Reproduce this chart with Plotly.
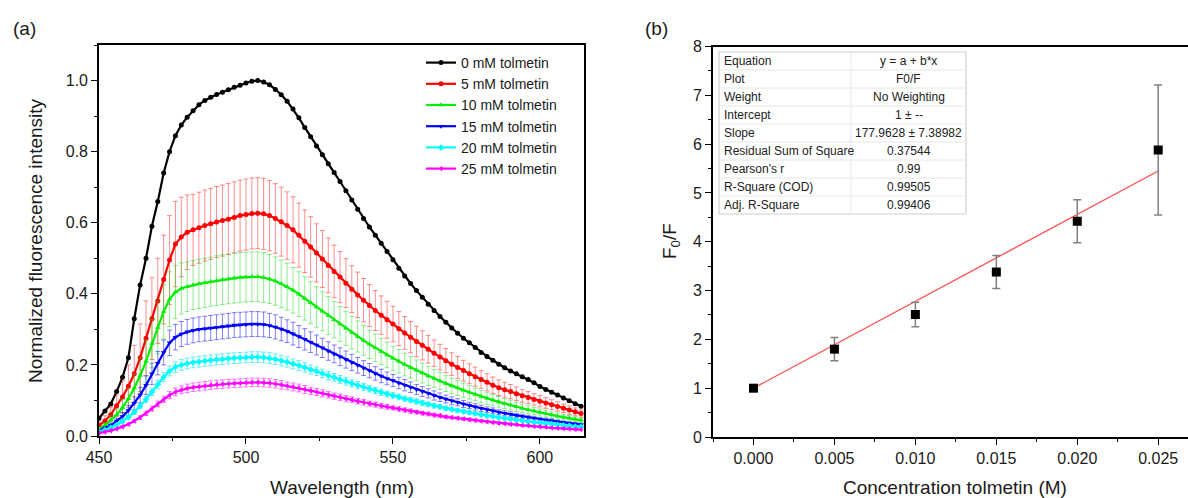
import plotly.graph_objects as go

# ---------------- data: panel (a) ----------------
wavelength = list(range(450, 615, 2))  # 450 ... 614 nm

series_names = ["0 mM tolmetin", "5 mM tolmetin", "10 mM tolmetin",
                "15 mM tolmetin", "20 mM tolmetin", "25 mM tolmetin"]

int_0mM = [0.05, 0.07, 0.09, 0.125, 0.165, 0.22, 0.33, 0.425, 0.50, 0.59,
           0.66, 0.74, 0.80, 0.845, 0.875, 0.897, 0.915, 0.932, 0.944, 0.953,
           0.961, 0.967, 0.974, 0.981, 0.987, 0.993, 0.998, 1.0, 0.996, 0.988,
           0.975, 0.96, 0.942, 0.92, 0.895, 0.868, 0.842, 0.816, 0.791, 0.766,
           0.741, 0.716, 0.69, 0.664, 0.638, 0.612, 0.588, 0.565, 0.542, 0.519,
           0.496, 0.472, 0.45, 0.429, 0.409, 0.39, 0.371, 0.353, 0.336, 0.32,
           0.304, 0.289, 0.275, 0.262, 0.249, 0.235, 0.224, 0.213, 0.202, 0.192,
           0.183, 0.175, 0.167, 0.159, 0.15, 0.139, 0.131, 0.123, 0.115, 0.107,
           0.099, 0.091, 0.084]

int_5mM = [0.03, 0.042, 0.06, 0.085, 0.11, 0.14, 0.175, 0.22, 0.275, 0.33,
           0.38, 0.44, 0.495, 0.54, 0.56, 0.573, 0.58, 0.586, 0.592, 0.597,
           0.602, 0.606, 0.61, 0.615, 0.62, 0.623, 0.626, 0.627, 0.625, 0.62,
           0.612, 0.603, 0.592, 0.58, 0.565, 0.548, 0.532, 0.515, 0.498, 0.48,
           0.463, 0.447, 0.43, 0.413, 0.397, 0.382, 0.367, 0.353, 0.34, 0.327,
           0.315, 0.302, 0.29, 0.278, 0.266, 0.255, 0.244, 0.233, 0.222, 0.212,
           0.202, 0.193, 0.184, 0.175, 0.167, 0.159, 0.151, 0.143, 0.136, 0.13,
           0.125, 0.119, 0.113, 0.108, 0.103, 0.098, 0.093, 0.088, 0.083, 0.078,
           0.073, 0.068, 0.063]
err_5mM = [0.01, 0.015, 0.02, 0.03, 0.045, 0.06, 0.08, 0.095, 0.105, 0.115,
           0.12, 0.125, 0.125, 0.12, 0.112, 0.105, 0.1, 0.1, 0.1, 0.1,
           0.1, 0.1, 0.1, 0.1, 0.1, 0.1, 0.1, 0.1, 0.1, 0.099,
           0.098, 0.097, 0.095, 0.093, 0.09, 0.088, 0.085, 0.082, 0.08, 0.077,
           0.074, 0.072, 0.069, 0.066, 0.064, 0.061, 0.059, 0.056, 0.054, 0.052,
           0.05, 0.048, 0.046, 0.044, 0.043, 0.041, 0.039, 0.037, 0.036, 0.034,
           0.032, 0.031, 0.029, 0.028, 0.027, 0.025, 0.024, 0.023, 0.022, 0.021,
           0.02, 0.019, 0.018, 0.017, 0.016, 0.016, 0.015, 0.014, 0.013, 0.012,
           0.012, 0.011, 0.01]

int_10mM = [0.02, 0.03, 0.045, 0.06, 0.08, 0.105, 0.135, 0.17, 0.21, 0.26,
            0.305, 0.35, 0.385, 0.405, 0.415, 0.42, 0.425, 0.428, 0.431, 0.434,
            0.437, 0.44, 0.442, 0.444, 0.446, 0.447, 0.448, 0.448, 0.446, 0.442,
            0.436, 0.428, 0.42, 0.41, 0.399, 0.387, 0.375, 0.363, 0.351, 0.339,
            0.327, 0.315, 0.303, 0.291, 0.28, 0.269, 0.258, 0.248, 0.238, 0.228,
            0.219, 0.21, 0.201, 0.193, 0.185, 0.177, 0.169, 0.162, 0.155, 0.148,
            0.141, 0.135, 0.129, 0.123, 0.117, 0.111, 0.106, 0.101, 0.096, 0.091,
            0.087, 0.082, 0.078, 0.074, 0.07, 0.066, 0.063, 0.059, 0.056, 0.053,
            0.05, 0.047, 0.044]
err_10mM = [0.005, 0.008, 0.012, 0.017, 0.023, 0.03, 0.04, 0.05, 0.06, 0.068,
            0.074, 0.077, 0.077, 0.075, 0.072, 0.07, 0.069, 0.069, 0.069, 0.069,
            0.07, 0.07, 0.07, 0.07, 0.07, 0.07, 0.07, 0.07, 0.07, 0.069,
            0.068, 0.067, 0.066, 0.064, 0.063, 0.061, 0.059, 0.057, 0.055, 0.053,
            0.051, 0.049, 0.048, 0.046, 0.044, 0.042, 0.04, 0.039, 0.037, 0.036,
            0.034, 0.033, 0.032, 0.03, 0.029, 0.028, 0.027, 0.025, 0.024, 0.023,
            0.022, 0.021, 0.02, 0.019, 0.018, 0.017, 0.017, 0.016, 0.015, 0.014,
            0.014, 0.013, 0.012, 0.012, 0.011, 0.01, 0.01, 0.009, 0.009, 0.008,
            0.008, 0.007, 0.007]

int_15mM = [0.015, 0.022, 0.03, 0.042, 0.055, 0.072, 0.092, 0.115, 0.143, 0.175,
            0.205, 0.235, 0.262, 0.278, 0.287, 0.293, 0.297, 0.3, 0.302, 0.304,
            0.306, 0.308, 0.31, 0.312, 0.313, 0.314, 0.315, 0.315, 0.314, 0.311,
            0.307, 0.301, 0.295, 0.288, 0.28, 0.272, 0.264, 0.256, 0.248, 0.239,
            0.231, 0.223, 0.215, 0.207, 0.199, 0.191, 0.184, 0.176, 0.169, 0.162,
            0.156, 0.149, 0.143, 0.137, 0.131, 0.125, 0.12, 0.114, 0.109, 0.104,
            0.099, 0.095, 0.09, 0.086, 0.082, 0.078, 0.074, 0.071, 0.067, 0.064,
            0.061, 0.058, 0.055, 0.052, 0.05, 0.047, 0.045, 0.043, 0.04, 0.038,
            0.036, 0.034, 0.032]
err_15mM = [0.003, 0.004, 0.006, 0.008, 0.011, 0.014, 0.018, 0.022, 0.026, 0.03,
            0.033, 0.035, 0.036, 0.036, 0.035, 0.035, 0.035, 0.035, 0.035, 0.035,
            0.035, 0.035, 0.035, 0.035, 0.035, 0.035, 0.035, 0.035, 0.035, 0.034,
            0.034, 0.033, 0.032, 0.032, 0.031, 0.03, 0.029, 0.028, 0.027, 0.026,
            0.025, 0.025, 0.024, 0.023, 0.022, 0.021, 0.02, 0.019, 0.019, 0.018,
            0.017, 0.016, 0.016, 0.015, 0.014, 0.014, 0.013, 0.013, 0.012, 0.011,
            0.011, 0.01, 0.01, 0.009, 0.009, 0.009, 0.008, 0.008, 0.007, 0.007,
            0.007, 0.006, 0.006, 0.006, 0.005, 0.005, 0.005, 0.005, 0.004, 0.004,
            0.004, 0.004, 0.004]

int_20mM = [0.012, 0.017, 0.023, 0.031, 0.041, 0.053, 0.067, 0.084, 0.103, 0.124,
            0.145, 0.166, 0.183, 0.194, 0.2, 0.204, 0.207, 0.209, 0.211, 0.213,
            0.215, 0.216, 0.218, 0.219, 0.22, 0.221, 0.222, 0.222, 0.221, 0.219,
            0.216, 0.212, 0.208, 0.203, 0.198, 0.193, 0.187, 0.182, 0.176, 0.17,
            0.165, 0.159, 0.154, 0.148, 0.143, 0.138, 0.133, 0.128, 0.123, 0.118,
            0.114, 0.11, 0.105, 0.101, 0.097, 0.093, 0.089, 0.085, 0.082, 0.078,
            0.075, 0.072, 0.069, 0.066, 0.063, 0.06, 0.057, 0.055, 0.052, 0.05,
            0.048, 0.045, 0.043, 0.041, 0.039, 0.037, 0.035, 0.034, 0.032, 0.03,
            0.029, 0.027, 0.026]
err_20mM = [0.001, 0.002, 0.002, 0.003, 0.004, 0.005, 0.006, 0.007, 0.009, 0.01,
            0.012, 0.013, 0.014, 0.015, 0.015, 0.015, 0.015, 0.015, 0.015, 0.015,
            0.015, 0.015, 0.015, 0.015, 0.015, 0.015, 0.015, 0.015, 0.015, 0.015,
            0.015, 0.015, 0.014, 0.014, 0.014, 0.013, 0.013, 0.012, 0.012, 0.012,
            0.011, 0.011, 0.011, 0.01, 0.01, 0.01, 0.009, 0.009, 0.009, 0.008,
            0.008, 0.008, 0.007, 0.007, 0.007, 0.007, 0.006, 0.006, 0.006, 0.006,
            0.005, 0.005, 0.005, 0.005, 0.004, 0.004, 0.004, 0.004, 0.004, 0.004,
            0.003, 0.003, 0.003, 0.003, 0.003, 0.003, 0.003, 0.003, 0.003, 0.003,
            0.002, 0.002, 0.002]

int_25mM = [0.008, 0.011, 0.015, 0.02, 0.026, 0.033, 0.042, 0.052, 0.064, 0.077,
            0.09, 0.103, 0.115, 0.124, 0.13, 0.134, 0.137, 0.139, 0.141, 0.143,
            0.145, 0.146, 0.147, 0.148, 0.149, 0.15, 0.151, 0.151, 0.15, 0.149,
            0.147, 0.144, 0.141, 0.138, 0.135, 0.131, 0.127, 0.124, 0.12, 0.116,
            0.112, 0.109, 0.105, 0.102, 0.098, 0.095, 0.091, 0.088, 0.085, 0.082,
            0.079, 0.076, 0.073, 0.07, 0.067, 0.064, 0.062, 0.059, 0.057, 0.054,
            0.052, 0.05, 0.048, 0.046, 0.044, 0.042, 0.04, 0.038, 0.036, 0.035,
            0.033, 0.032, 0.03, 0.029, 0.027, 0.026, 0.025, 0.023, 0.022, 0.021,
            0.02, 0.019, 0.018]
err_25mM = [0.001, 0.001, 0.002, 0.002, 0.003, 0.003, 0.004, 0.005, 0.006, 0.007,
            0.008, 0.009, 0.01, 0.011, 0.011, 0.012, 0.012, 0.012, 0.012, 0.012,
            0.012, 0.012, 0.012, 0.012, 0.012, 0.012, 0.012, 0.012, 0.012, 0.012,
            0.012, 0.012, 0.011, 0.011, 0.011, 0.011, 0.01, 0.01, 0.01, 0.009,
            0.009, 0.009, 0.009, 0.008, 0.008, 0.008, 0.007, 0.007, 0.007, 0.007,
            0.006, 0.006, 0.006, 0.006, 0.005, 0.005, 0.005, 0.005, 0.005, 0.004,
            0.004, 0.004, 0.004, 0.004, 0.004, 0.003, 0.003, 0.003, 0.003, 0.003,
            0.003, 0.003, 0.002, 0.002, 0.002, 0.002, 0.002, 0.002, 0.002, 0.002,
            0.002, 0.002, 0.001]

# ---------------- data: panel (b) ----------------
conc_M = [0.0, 0.005, 0.010, 0.015, 0.020, 0.025]
f0_over_f = [1.0, 1.80, 2.51, 3.38, 4.42, 5.88]
f0_over_f_err = [0.0, 0.24, 0.25, 0.34, 0.44, 1.33]
fit_intercept = 1.0
fit_slope = 177.9628

table_labels = ["Equation", "Plot", "Weight", "Intercept", "Slope",
                "Residual Sum of Square", "Pearson's r", "R-Square (COD)",
                "Adj. R-Square"]
table_values = ["y = a + b*x", "F0/F", "No Weighting", "1 ± --",
                "177.9628 ± 7.38982", "0.37544", "0.99", "0.99505", "0.99406"]

# ---------------- figure ----------------
W, H = 1188, 498
FONT = "Arial, Liberation Sans, sans-serif"


def px(x):
    return x / W


def py(y):
    return 1 - y / H


fig = go.Figure()

styles = [
    ("#000000", "circle", None, None),
    ("#ff0000", "circle", err_5mM, "rgba(255,0,0,0.5)"),
    ("#00ee00", "triangle-up", err_10mM, "rgba(0,220,0,0.5)"),
    ("#0000ff", "triangle-down", err_15mM, "rgba(0,0,255,0.55)"),
    ("#00ffff", "diamond", err_20mM, "rgba(0,230,230,0.65)"),
    ("#ff00ff", "triangle-left", err_25mM, "rgba(255,0,255,0.6)"),
]
series_vals = [int_0mM, int_5mM, int_10mM, int_15mM, int_20mM, int_25mM]

for name, vals, (col, sym, err, ecol) in zip(series_names, series_vals, styles):
    tr = dict(x=wavelength, y=vals, name=name, mode="lines+markers",
              line=dict(color=col, width=2.2),
              marker=dict(color=col, symbol=sym, size=5),
              xaxis="x", yaxis="y")
    if err is not None:
        tr["error_y"] = dict(type="data", array=err, visible=True,
                             color=ecol, thickness=0.9, width=2.5)
    fig.add_trace(go.Scatter(**tr))

# panel (b): fit line and data
fit_x = [conc_M[0], conc_M[-1]]
fit_y = [fit_intercept + fit_slope * v for v in fit_x]
fig.add_trace(go.Scatter(x=fit_x, y=fit_y, mode="lines",
                         line=dict(color="#ff4d4d", width=1.3),
                         showlegend=False, xaxis="x2", yaxis="y2"))
fig.add_trace(go.Scatter(x=conc_M, y=f0_over_f, mode="markers",
                         marker=dict(symbol="square", size=9, color="black"),
                         error_y=dict(type="data", array=f0_over_f_err,
                                      color="#808080", thickness=1.5, width=4),
                         showlegend=False, xaxis="x2", yaxis="y2"))

axis_common = dict(showline=True, linecolor="black", linewidth=1.6,
                   ticks="outside", ticklen=6, tickwidth=1.4, tickcolor="black",
                   showgrid=False, zeroline=False, automargin=False,
                   tickfont=dict(family=FONT, size=16, color="#1a1a1a"))

fig.update_layout(
    width=W, height=H,
    margin=dict(l=0, r=0, t=0, b=0, autoexpand=False),
    paper_bgcolor="white", plot_bgcolor="white",
    font=dict(family=FONT, color="#1a1a1a"),
    xaxis=dict(domain=[px(99), px(584)], range=[450, 615],
               tickvals=[450, 500, 550, 600], mirror=True,
               minor=dict(ticks="outside", ticklen=3, tickwidth=1.2,
                          tickcolor="black", tick0=450, dtick=25),
               **axis_common),
    yaxis=dict(domain=[py(436), py(45)], range=[0, 1.1],
               tickvals=[0, 0.2, 0.4, 0.6, 0.8, 1.0], tickformat=".1f",
               mirror=True,
               minor=dict(ticks="outside", ticklen=3, tickwidth=1.2,
                          tickcolor="black", tick0=0, dtick=0.1),
               **axis_common),
    xaxis2=dict(domain=[px(713), 1.0], range=[-0.0025, 0.02684],
                tickvals=[0, 0.005, 0.01, 0.015, 0.02, 0.025],
                tickformat=".3f", mirror=True, anchor="y2",
                minor=dict(ticks="outside", ticklen=3, tickwidth=1.2,
                           tickcolor="black", tick0=0, dtick=0.0025),
                **axis_common),
    yaxis2=dict(domain=[py(437), py(46.5)], range=[0, 8], dtick=1,
                anchor="x2", mirror=False,
                minor=dict(ticks="outside", ticklen=3, tickwidth=1.2,
                           tickcolor="black", tick0=0, dtick=0.5),
                **axis_common),
    legend=dict(x=px(421), y=py(47), xanchor="left", yanchor="top",
                bgcolor="rgba(0,0,0,0)", borderwidth=0,
                font=dict(family=FONT, size=14, color="#1a1a1a"),
                itemwidth=30, tracegroupgap=0),
)

annotations = [
    dict(text="(a)", x=px(24), y=py(28), font=dict(size=19)),
    dict(text="(b)", x=px(656), y=py(28), font=dict(size=19)),
    dict(text="Wavelength (nm)", x=px(341.5), y=py(487), font=dict(size=19)),
    dict(text="Normalized fluorescence intensity", x=px(35), y=py(241),
         textangle=-90, font=dict(size=19)),
    dict(text="Concentration tolmetin (M)", x=px(955), y=py(487),
         font=dict(size=19)),
    dict(text="F<sub>0</sub>/F", x=px(671), y=py(241), textangle=-90,
         font=dict(size=19)),
]
for a in annotations:
    a.update(xref="paper", yref="paper", showarrow=False,
             xanchor="center", yanchor="middle")
    a["font"].update(family=FONT, color="#1a1a1a")

# table inset in panel (b)
tx0, tx1, tdiv = 719, 966, 851
ty0, row_h = 52, 18
n_rows = len(table_labels)
shapes = [dict(type="rect", xref="paper", yref="paper",
               x0=px(tx0), x1=px(tx1), y0=py(ty0), y1=py(ty0 + row_h * n_rows),
               line=dict(color="#d0d0d0", width=1.2), fillcolor="white",
               layer="above")]
for i in range(1, n_rows):
    yy = py(ty0 + row_h * i)
    shapes.append(dict(type="line", xref="paper", yref="paper",
                       x0=px(tx0), x1=px(tx1), y0=yy, y1=yy,
                       line=dict(color="#e6e6e6", width=1), layer="above"))
shapes.append(dict(type="line", xref="paper", yref="paper",
                   x0=px(tdiv), x1=px(tdiv), y0=py(ty0),
                   y1=py(ty0 + row_h * n_rows),
                   line=dict(color="#e6e6e6", width=1), layer="above"))
for i, (lab, val) in enumerate(zip(table_labels, table_values)):
    yc = py(ty0 + row_h * i + row_h / 2)
    annotations.append(dict(text=lab, x=px(tx0 + 3), y=yc, xref="paper",
                            yref="paper", showarrow=False, xanchor="left",
                            yanchor="middle",
                            font=dict(family=FONT, size=12, color="#222")))
    annotations.append(dict(text=val, x=px((tdiv + tx1) / 2), y=yc,
                            xref="paper", yref="paper", showarrow=False,
                            xanchor="center", yanchor="middle",
                            font=dict(family=FONT, size=12, color="#222")))

fig.update_layout(annotations=annotations, shapes=shapes)

fig.write_html("out.html",
               config={"displayModeBar": False},
               post_script="document.body.style.margin='0px';"
                           "document.body.style.overflow='hidden';")
